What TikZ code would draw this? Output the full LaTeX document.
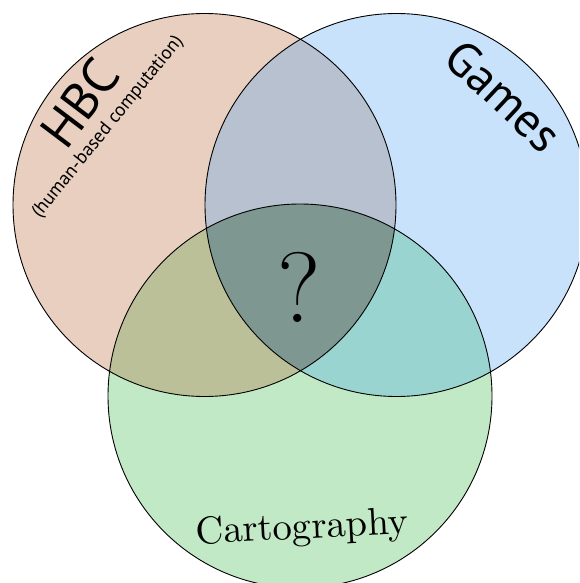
\documentclass[tikz,border=0pt]{standalone}
\usepackage{fontspec}
\usepackage{graphicx}
\newfontfamily\labelsans{PT Sans}
\definecolor{hbcfill}{RGB}{232,207,192}
\definecolor{gamefill}{RGB}{199,226,250}
\definecolor{mapfill}{RGB}{193,233,197}
\definecolor{hbcgame}{RGB}{183,193,208}
\definecolor{hbcmap}{RGB}{187,192,152}
\definecolor{gamemap}{RGB}{154,212,208}
\definecolor{allthree}{RGB}{126,152,145}
\tikzset{
  setline/.style={draw=black, line width=0.9pt},
  biglabel/.style={inner sep=0pt, font=\labelsans},
}
\def\hbcset{(204.5,205) circle[radius=191.5pt]}
\def\gameset{(396.5,205) circle[radius=191.5pt]}
\def\mapset{(300,396) circle[radius=192pt]}
\begin{document}
\begin{tikzpicture}[x=1pt,y=-1pt]
\useasboundingbox (0,0) rectangle (579,583);
\clip (0,0) rectangle (579,583);
% single sets
\fill[hbcfill] \hbcset;
\fill[gamefill] \gameset;
\fill[mapfill] \mapset;
% pairwise overlaps
\begin{scope}\clip \hbcset; \fill[hbcgame] \gameset;\end{scope}
\begin{scope}\clip \hbcset; \fill[hbcmap] \mapset;\end{scope}
\begin{scope}\clip \gameset; \fill[gamemap] \mapset;\end{scope}
% common part of all three
\begin{scope}\clip \hbcset; \clip \gameset; \fill[allthree] \mapset;\end{scope}
% outlines
\draw[setline] \hbcset;
\draw[setline] \gameset;
\draw[setline] \mapset;
% labels
\node[biglabel, rotate=53] (hbc) at (80,103) {\resizebox{94pt}{!}{HBC}};
\node[biglabel, rotate=51] (hbcsub) at (108,127) {\resizebox{228pt}{!}{(human-based computation)}};
\node[biglabel, rotate=-43] (games) at (504,96) {\resizebox{138pt}{!}{Games}};
\node[inner sep=0pt, rotate=3] (carto) at (302,529) {\resizebox{213pt}{!}{Cartography}};
\node[inner sep=0pt] (quest) at (299,287) {\fontsize{100}{100}\selectfont ?};
\end{tikzpicture}
\end{document}
